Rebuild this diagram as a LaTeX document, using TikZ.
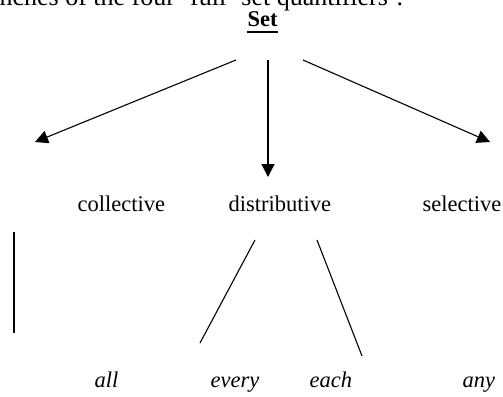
\documentclass[tikz,border=0pt]{standalone}
\usepackage{fontspec}
\setmainfont{Liberation Serif}
\usetikzlibrary{arrows.meta}
\begin{document}
\begin{tikzpicture}[x=1pt,y=-1pt,>={Triangle[length=13pt,width=13pt]},line width=1.1pt,
  lab/.style={inner sep=0pt,anchor=base west,font=\fontsize{22.5}{27}\selectfont},
  quant/.style={inner sep=0pt,anchor=base west,font=\fontsize{22.5}{27}\selectfont\itshape}]
\path[use as bounding box,clip](0,0)rectangle(503,396);
\node[inner sep=0pt,anchor=base west,font=\fontsize{26}{30}\selectfont] (head) at (-1,6){nches of the four ‘full’ set quantifiers’.};
\node[lab,font=\fontsize{22.5}{27}\selectfont\bfseries] (set) at (247,27){Set};
\draw[line width=1.5pt] ([yshift=-5pt]set.base west)--([yshift=-5pt]set.base east);
% first level
\node[lab] (coll) at (77,211){collective};
\node[lab] (dist) at (228,211){distributive};
\node[lab] (sel) at (422,211){selective};
\coordinate (a1) at (236,60); \coordinate (b1) at (35,142);
\coordinate (a2) at (268,60); \coordinate (b2) at (268,177);
\coordinate (a3) at (303,60); \coordinate (b3) at (490,142);
\draw[->] (a1)--(b1);
\draw[->] (a2)--(b2);
\draw[->] (a3)--(b3);
% second level
\node[quant] (all) at (94,387){all};
\node[quant] (every) at (210,387){every};
\node[quant] (each) at (309,387){each};
\node[quant] (any) at (462,387){any};
\coordinate (c1) at (14,232); \coordinate (d1) at (14,333);
\coordinate (c2) at (255,240); \coordinate (d2) at (200,343);
\coordinate (c3) at (317,240); \coordinate (d3) at (362,356);
\draw (c1)--(d1);
\draw (c2)--(d2);
\draw (c3)--(d3);

\end{tikzpicture}
\end{document}
